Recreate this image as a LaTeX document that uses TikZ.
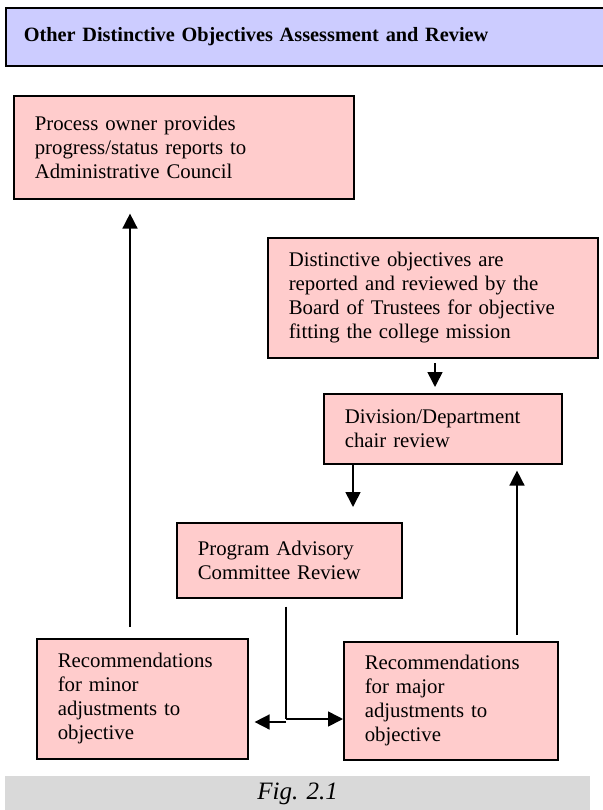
\documentclass[tikz,border=0pt]{standalone}
\usepackage{fontspec}
\setmainfont{Liberation Serif}
\usetikzlibrary{arrows.meta,calc}
\definecolor{boxpink}{HTML}{FFCCCC}
\definecolor{titlelav}{HTML}{CCCCFF}
\definecolor{capgray}{HTML}{D9D9D9}
\begin{document}
\begin{tikzpicture}[x=1pt,y=-1pt,
  stepbox/.style={draw=black,line width=1.6pt,fill=boxpink,anchor=north west,
    align=left,inner xsep=21pt,inner ysep=0pt,
    font=\fontsize{20.8}{24}\selectfont},
  conn/.style={line width=1.6pt},
  arr/.style={line width=1.6pt,-{Triangle[length=15pt,width=15pt]}}]
\useasboundingbox (0,0) rectangle (602,810);
% title bar
\node[draw=black,line width=1.6pt,fill=titlelav,anchor=north west,minimum width=600pt,
  minimum height=58pt,text width=564pt,inner xsep=18pt,align=left,
  font=\fontsize{20.3}{24}\selectfont\bfseries] (title) at (5,7)
  {Other Distinctive Objectives Assessment and Review};
% caption bar
\node[fill=capgray,anchor=north west,minimum width=585pt,minimum height=36pt,inner sep=0pt,
  font=\fontsize{25}{28}\selectfont\itshape] (cap) at (5,776) {Fig. 2.1};
% boxes
\node[stepbox,text width=298pt,minimum height=103pt] (proc) at (13,95)
  {Process owner provides\\progress/status reports to\\Administrative Council};
\node[stepbox,text width=288pt,minimum height=120pt] (dist) at (267,237)
  {Distinctive objectives are\\reported and reviewed by the\\Board of Trustees for objective\\fitting the college mission};
\node[stepbox,text width=196pt,minimum height=70pt] (div) at (323,393)
  {Division/Department\\chair review};
\node[stepbox,text width=183pt,minimum height=75pt] (pac) at (176,522)
  {Program Advisory\\Committee Review};
\node[stepbox,text width=169pt,minimum height=120pt] (minor) at (36,638)
  {Recommendations\\for minor\\adjustments to\\objective};
\node[stepbox,text width=172pt,minimum height=118pt] (major) at (343,641)
  {Recommendations\\for major\\adjustments to\\objective};
% connectors
\coordinate (a1) at (435,357);
\draw[arr,shorten <=6pt,shorten >=6pt] (a1) -- (a1 |- div.north);
\coordinate (a2) at (353,463);
\draw[arr,shorten >=15pt] (a2) -- (a2 |- pac.north);
\coordinate (sp) at (286,719);
\coordinate (sp2) at (286,722);
\draw[conn] ([yshift=-8pt]pac.south -| sp) -- (sp);
\draw[arr] (sp) -- (sp -| major.west);
\draw[arr,shorten >=6pt] (sp2) -- (sp2 -| minor.east);
\coordinate (a3) at (517,641);
\draw[arr,shorten <=6pt,shorten >=6pt] (a3) -- (a3 |- div.south);
\coordinate (a4) at (130,638);
\draw[arr,shorten <=11pt,shorten >=14pt] (a4) -- (a4 |- proc.south);
\end{tikzpicture}
\end{document}
